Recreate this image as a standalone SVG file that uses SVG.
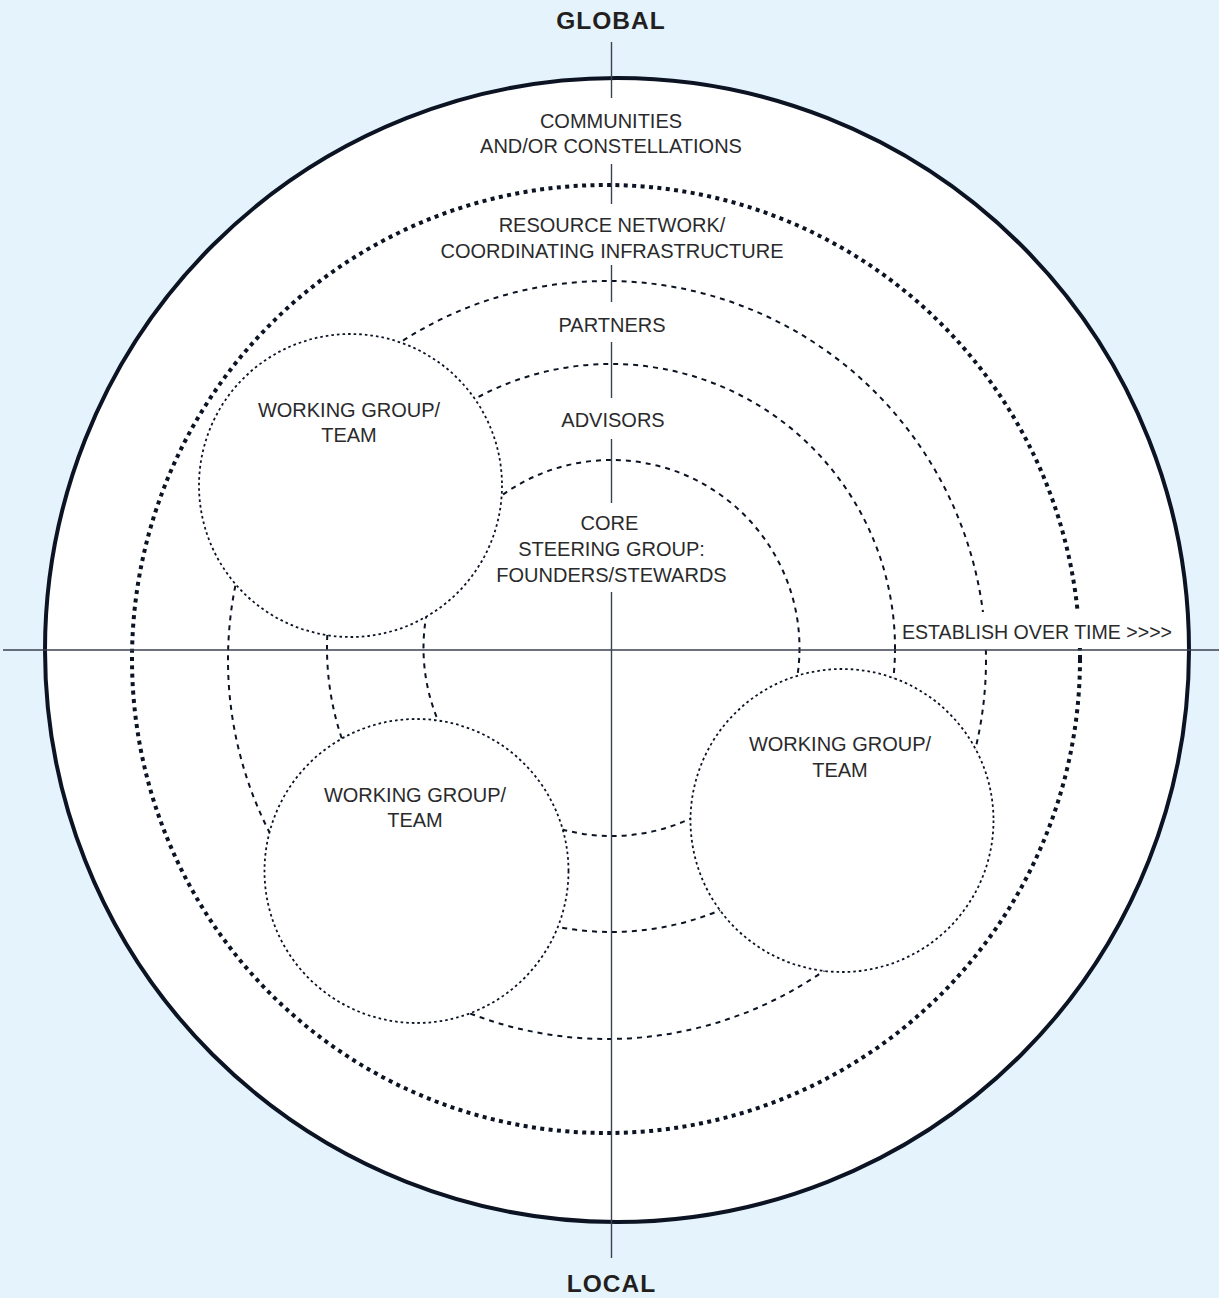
<svg xmlns="http://www.w3.org/2000/svg" width="1219" height="1298" viewBox="0 0 1219 1298">
  <style>
    .ring-outer { fill: #ffffff; stroke: #0c1424; stroke-width: 4; }
    .ring-network { fill: none; stroke: #0c1424; stroke-width: 4; stroke-dasharray: 4 4.4; }
    .ring { fill: none; stroke: #0c1424; stroke-width: 2; stroke-dasharray: 5 5; }
    .group { fill: #ffffff; stroke: #0c1424; stroke-width: 1.8; stroke-dasharray: 2.6 3; }
    .axis { stroke: #3a4150; stroke-width: 1.4; fill: none; }
    .label { font-family: "Liberation Sans", Arial, sans-serif; font-size: 20px; fill: #2a2a2c; text-anchor: middle; }
    .pole { font-family: "Liberation Sans", Arial, sans-serif; font-size: 24.5px; font-weight: bold; fill: #231f20; text-anchor: middle; letter-spacing: 1px; }
  </style>

  <rect width="1219" height="1298" fill="#e5f4fc"/>

  <!-- concentric rings -->
  <g id="communities">
    <circle class="ring-outer" cx="617" cy="650" r="572"/>
  </g>
  <g id="resource-network">
    <circle class="ring-network" cx="606" cy="659" r="474"/>
  </g>
  <g id="partners">
    <circle class="ring" cx="607" cy="660" r="379"/>
  </g>
  <g id="advisors">
    <circle class="ring" cx="611" cy="648" r="284"/>
  </g>
  <g id="core">
    <circle class="ring" cx="611.5" cy="648" r="188"/>
  </g>

  <!-- working groups -->
  <g id="working-group-1">
    <circle class="group" cx="350.5" cy="485.5" r="151.5"/>
    <text class="label" x="349" y="417">WORKING GROUP/</text>
    <text class="label" x="349" y="442">TEAM</text>
  </g>
  <g id="working-group-2">
    <circle class="group" cx="416.5" cy="871" r="152"/>
    <text class="label" x="415" y="802">WORKING GROUP/</text>
    <text class="label" x="415" y="827">TEAM</text>
  </g>
  <g id="working-group-3">
    <circle class="group" cx="842" cy="820.5" r="151.5"/>
    <text class="label" x="840" y="751">WORKING GROUP/</text>
    <text class="label" x="840" y="777">TEAM</text>
  </g>

  <!-- axes -->
  <g id="connectors">
    <rect x="899" y="612" width="278" height="36" fill="#ffffff"/>
    <line class="axis" x1="3" y1="650" x2="1219" y2="650"/>
    <line class="axis" x1="611.5" y1="42" x2="611.5" y2="98"/>
    <line class="axis" x1="611.5" y1="164" x2="611.5" y2="204"/>
    <line class="axis" x1="611.5" y1="265" x2="611.5" y2="302"/>
    <line class="axis" x1="611.5" y1="342" x2="611.5" y2="398"/>
    <line class="axis" x1="611.5" y1="439" x2="611.5" y2="503"/>
    <line class="axis" x1="611.5" y1="592" x2="611.5" y2="1258"/>
  </g>

  <!-- ring labels -->
  <g id="labels">
    <text class="pole" x="611" y="28.5">GLOBAL</text>
    <text class="pole" x="611.5" y="1291.5">LOCAL</text>
    <text class="label" x="611" y="128">COMMUNITIES</text>
    <text class="label" x="611" y="153">AND/OR CONSTELLATIONS</text>
    <text class="label" x="612" y="232">RESOURCE NETWORK/</text>
    <text class="label" x="612" y="258">COORDINATING INFRASTRUCTURE</text>
    <text class="label" x="612" y="332">PARTNERS</text>
    <text class="label" x="613" y="427">ADVISORS</text>
    <text class="label" x="609.5" y="530">CORE</text>
    <text class="label" x="611.5" y="556">STEERING GROUP:</text>
    <text class="label" x="611.5" y="582">FOUNDERS/STEWARDS</text>
    <text class="label" x="1037" y="638.5" textLength="270" lengthAdjust="spacingAndGlyphs">ESTABLISH OVER TIME &gt;&gt;&gt;&gt;</text>
  </g>
</svg>
